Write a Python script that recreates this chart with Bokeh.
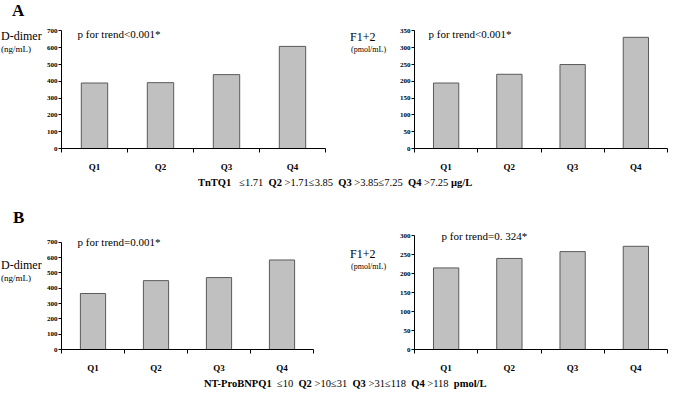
from bokeh.plotting import figure
from bokeh.models import Range1d, FixedTicker, Label, Div
from bokeh.layouts import column, row
from bokeh.embed import file_html
from bokeh.resources import INLINE

# ---------------- data ----------------
quartiles = ["Q1", "Q2", "Q3", "Q4"]
ddimer_tnt = [390, 392, 440, 608]     # D-dimer (ng/mL) by TnT quartile
f12_tnt = [195, 221, 250, 331]        # F1+2 (pmol/mL) by TnT quartile
ddimer_bnp = [366, 450, 470, 585]     # D-dimer (ng/mL) by NT-ProBNP quartile
f12_bnp = [215, 240, 258, 272]        # F1+2 (pmol/mL) by NT-ProBNP quartile

ticks_ddimer = [0, 100, 200, 300, 400, 500, 600, 700]
ticks_f12_a = [0, 50, 100, 150, 200, 250, 300, 350]
ticks_f12_b = [0, 50, 100, 150, 200, 250, 300]

FONT = "Liberation Serif"


def panel(values, yticks, width, height, bl, br, bt, bb, axis_px):
    """axis_px: pixel height of the y axis (0 .. top tick); the frame is taller
    so that the texts above the axis stay inside it."""
    frame_h = height - bt - bb
    ymax = yticks[-1]
    p = figure(width=width, height=height,
               x_range=Range1d(0, len(quartiles)),
               y_range=Range1d(0, ymax * frame_h / axis_px),
               output_backend="svg", toolbar_location=None,
               min_border_left=bl, min_border_right=br,
               min_border_top=bt, min_border_bottom=bb)
    xs = [i + 0.5 for i in range(len(quartiles))]
    p.vbar(x=xs, top=values, bottom=0, width=0.4,
           fill_color="#c0c0c0", line_color="#5a5a5a", line_width=1)
    p.grid.visible = False
    p.outline_line_color = None

    xa = p.xaxis[0]
    xa.ticker = FixedTicker(ticks=xs, minor_ticks=list(range(len(quartiles) + 1)))
    xa.major_label_overrides = {x: q for x, q in zip(xs, quartiles)}
    xa.major_tick_line_color = None
    xa.major_tick_out = 0
    xa.major_tick_in = 0
    xa.minor_tick_line_color = "black"
    xa.minor_tick_out = 4
    xa.minor_tick_in = 0
    xa.major_label_standoff = 9
    xa.major_label_text_font = FONT
    xa.major_label_text_font_style = "bold"
    xa.major_label_text_font_size = "9px"
    xa.major_label_text_color = "black"
    xa.axis_line_color = "black"

    ya = p.yaxis[0]
    ya.ticker = FixedTicker(ticks=yticks)
    ya.bounds = (0, ymax)
    ya.major_tick_out = 3
    ya.major_tick_in = 0
    ya.major_tick_line_color = "black"
    ya.minor_tick_line_color = None
    ya.major_label_standoff = 1
    ya.major_label_text_font = FONT
    ya.major_label_text_font_style = "bold"
    ya.major_label_text_font_size = "7px"
    ya.major_label_text_color = "black"
    ya.axis_line_color = "black"
    return p


def put(p, text, px, py, fl, fb, size, style="normal"):
    """px, py: position inside the row (left, vertical centre); fl, fb: frame
    left and frame bottom in the same row coordinates."""
    p.add_layout(Label(x=px - fl, y=fb - py, x_units="screen", y_units="screen",
                       text=text, text_font=FONT, text_font_size=size,
                       text_font_style=style, text_baseline="middle",
                       text_align="left", text_color="black"))


def side_div(items, width, height):
    """items: (text, left, center_y, size_px, bold)"""
    parts = []
    for text, left, cy, size, bold in items:
        lh = round(size * 1.2)
        parts.append(
            f'<div style="position:absolute;left:{left}px;top:{cy - lh / 2}px;'
            f'font-size:{size}px;line-height:{lh}px;white-space:nowrap;'
            f'font-family:\'{FONT}\',serif;font-weight:{"bold" if bold else "normal"}">{text}</div>')
    html = (f'<div style="position:relative;width:{width}px;height:{height}px;'
            f'overflow:visible;color:black">' + "".join(parts) + "</div>")
    return Div(text=html, width=width, height=height, margin=0,
               styles={"font-family": FONT})


def caption(html, left, height):
    inner = (f'<div style="padding-left:{left}px;font-family:\'{FONT}\',serif;font-size:10.5px;'
             f'line-height:{height}px;white-space:nowrap;color:black">{html}</div>')
    return Div(text=inner, width=669, height=height, margin=0,
               styles={"font-family": FONT})


# ---------------- row A (layout y 0..174) ----------------
A_H, A_FB = 174, 151            # row height, frame bottom
a1 = panel(ddimer_tnt, ticks_ddimer, 292, A_H, 17, 10, 4, A_H - A_FB, 120)
a2 = panel(f12_tnt, ticks_f12_a, 273, A_H, 16, 2, 4, A_H - A_FB, 120)
a1_fl, a2_fl = 60, 412
put(a1, "p for trend<0.001*", 76, 36, a1_fl, A_FB, "11px")
put(a2, "p for trend<0.001*", 426, 36, a2_fl, A_FB, "11px")

left_a = side_div([("A", 12, 11, 17, True),
                   ("D-dimer", 1, 36, 12, False),
                   ("(ng/mL)", 1, 49, 9, False)], 43, A_H)
mid_a = side_div([("F1+2", 15, 37, 12, False),
                  ("(pmol/mL)", 16, 50, 8, False)], 61, A_H)

cap_a = caption("<b>TnTQ1</b>&nbsp;&nbsp; \u22641.71&nbsp; <b>Q2</b> &gt;1.71\u22643.85&nbsp; "
                "<b>Q3</b> &gt;3.85\u22647.25&nbsp; <b>Q4</b> &gt;7.25 <b>\u00b5g/L</b>", 198, 17)

# ---------------- row B (layout y 191..375) ----------------
B_H, B_FB = 184, 165            # row height, frame bottom (row coordinates)
b1 = panel(ddimer_bnp, ticks_ddimer, 292, B_H, 17, 22, 4, B_H - B_FB, 112)
b2 = panel(f12_bnp, ticks_f12_b, 273, B_H, 16, 2, 4, B_H - B_FB, 119)
b1_fl, b2_fl = 60, 412
put(b1, "p for trend=0.001*", 76, 57, b1_fl, B_FB, "11px")
put(b2, "p for trend=0. 324*", 439, 51, b2_fl, B_FB, "11px")

left_b = side_div([("B", 13, 27, 17, True),
                   ("D-dimer", 1, 74, 12, False),
                   ("(ng/mL)", 1, 87, 9, False)], 43, B_H)
mid_b = side_div([("F1+2", 15, 63, 12, False),
                  ("(pmol/mL)", 16, 76, 8, False)], 61, B_H)

cap_b = caption("<b>NT-ProBNPQ1</b>&nbsp; \u226410&nbsp; <b>Q2</b> &gt;10\u226431&nbsp; "
                "<b>Q3</b> &gt;31\u2264118&nbsp; <b>Q4</b> &gt;118&nbsp; <b>pmol/L</b>", 204, 17)

layout = column(row(left_a, a1, mid_a, a2), cap_a,
                row(left_b, b1, mid_b, b2), cap_b)

open("out.html", "w").write(file_html(layout, INLINE))
